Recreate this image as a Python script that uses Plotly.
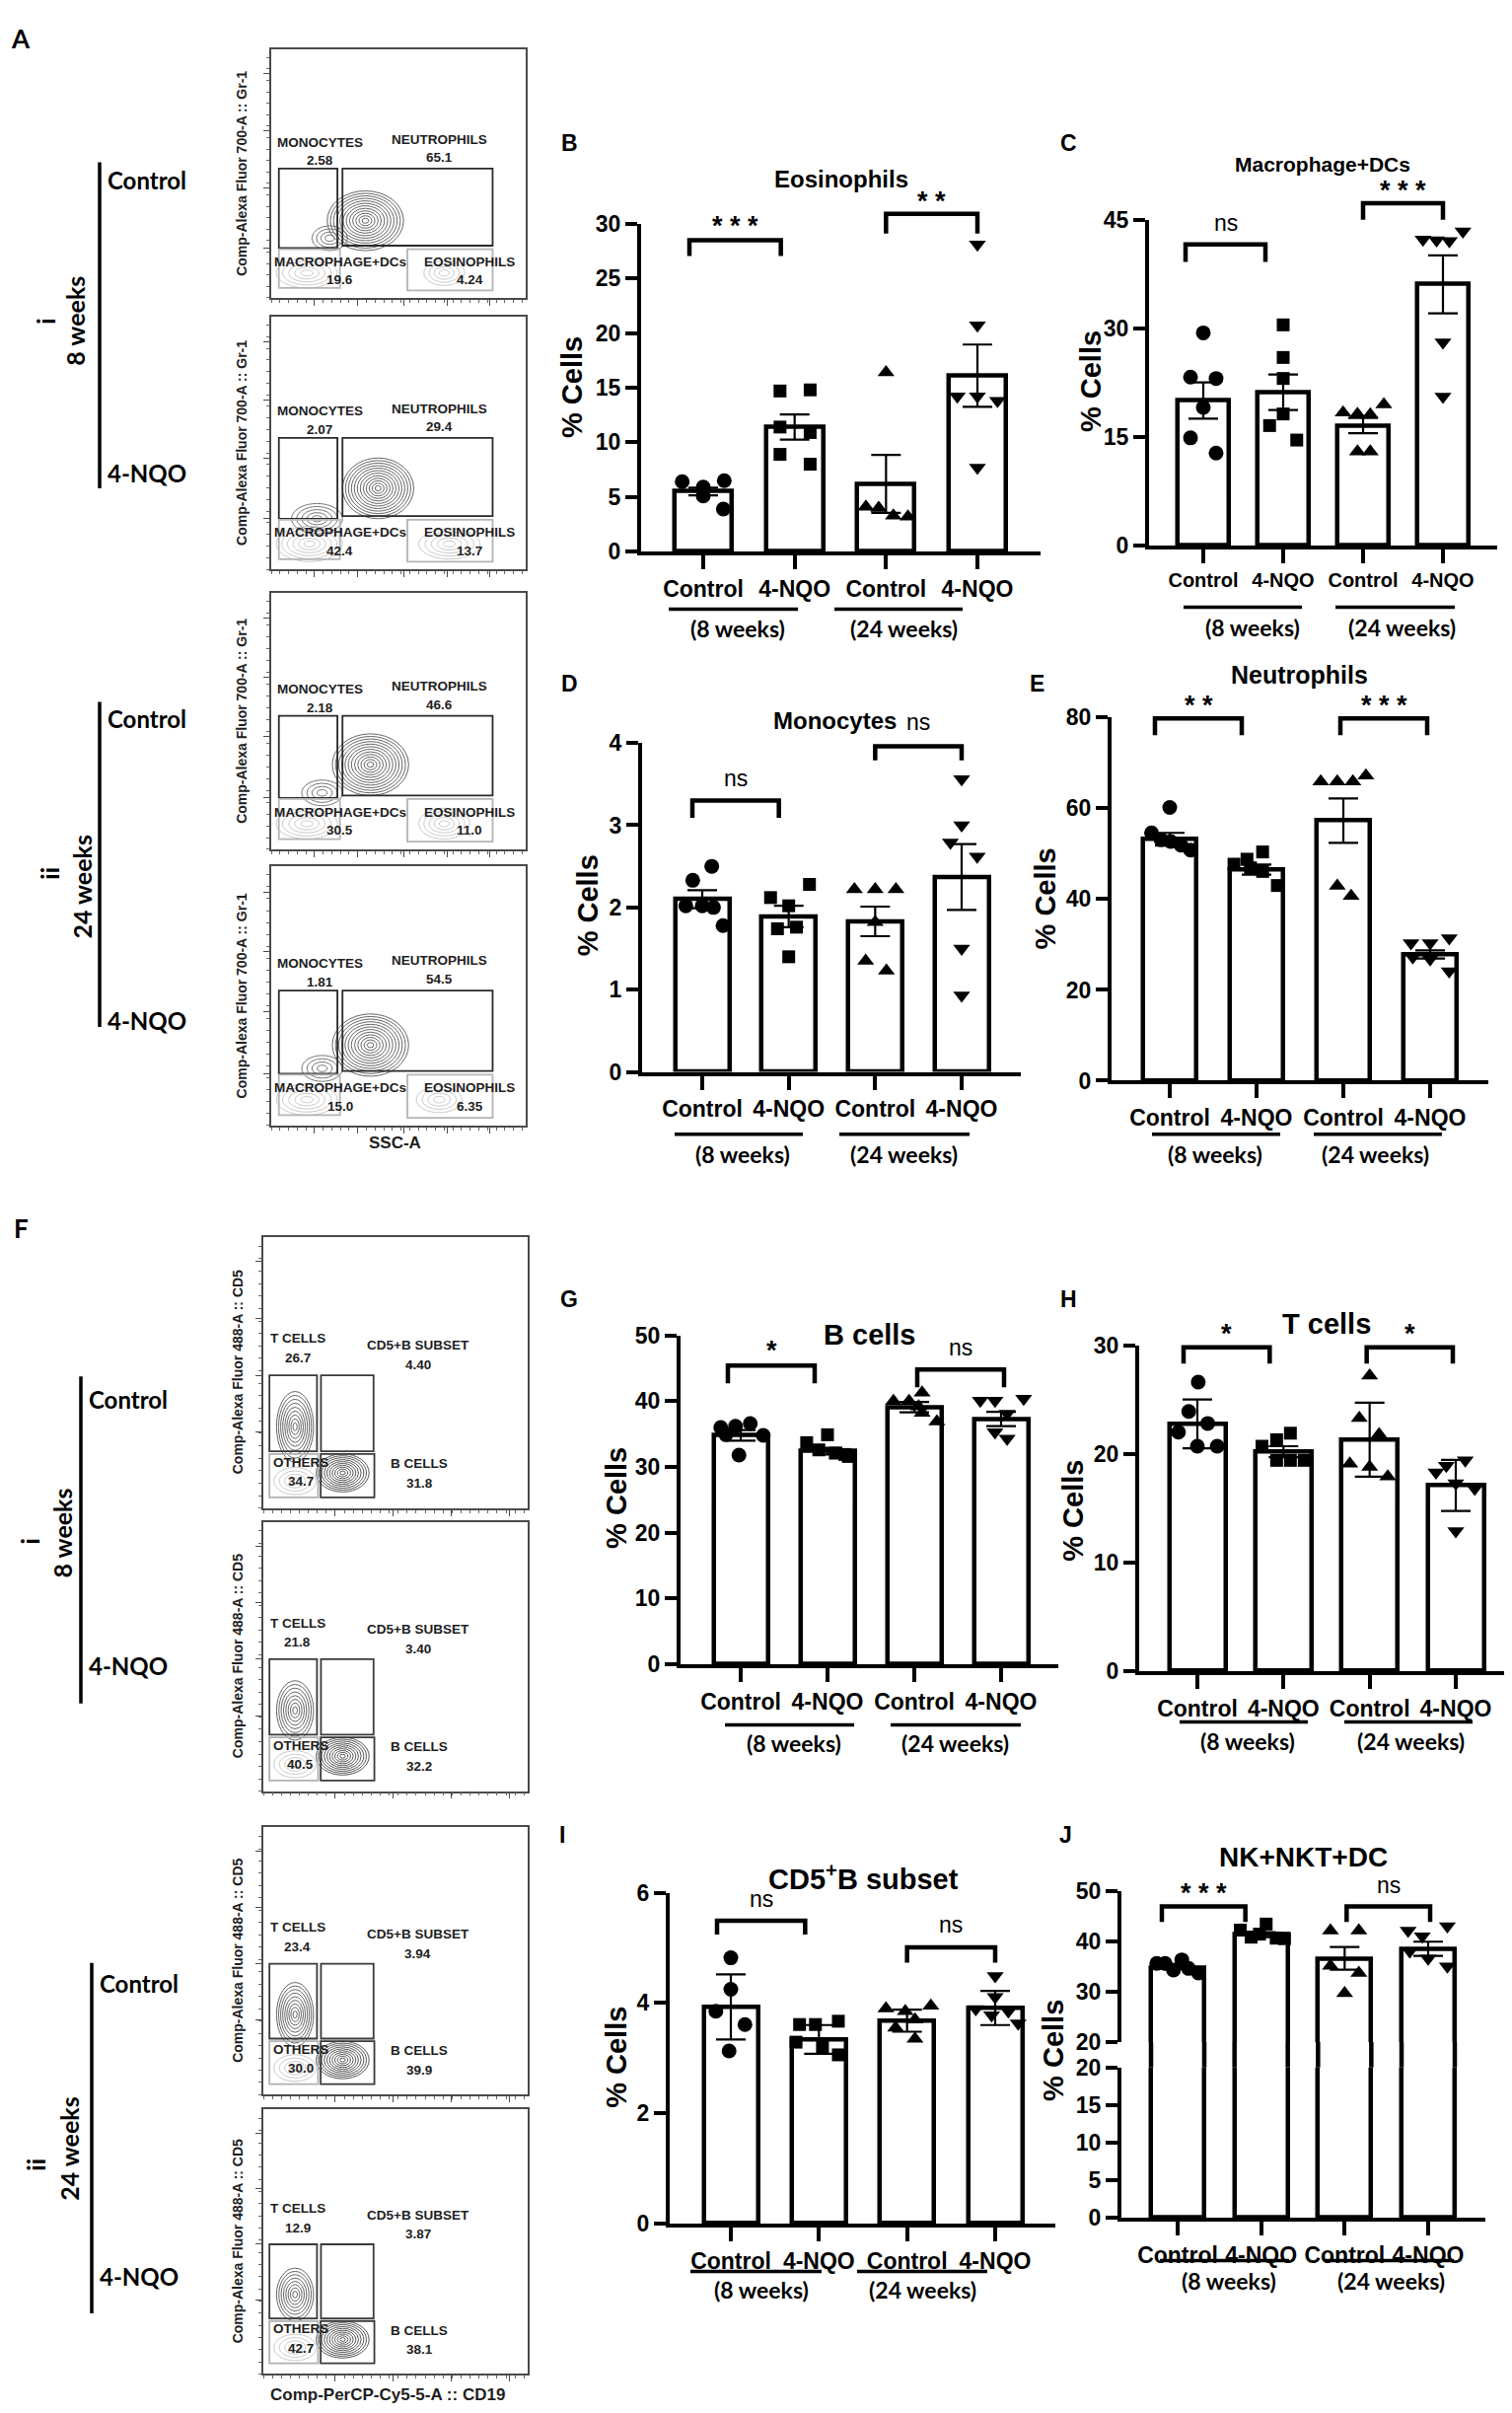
import plotly.graph_objects as go

W, H = 1533, 2446
FONT = "Liberation Sans, Arial, sans-serif"
SIDE = "Lato, Carlito, Open Sans, sans-serif"

# ------------------------------------------------------------------ data
GROUPS = ["Control", "4-NQO", "Control", "4-NQO"]
WEEKS = ["(8 weeks)", "(24 weeks)"]
SYMBOLS = ["circle", "square", "triangle-up", "triangle-down"]
MSIZE = [15, 13, 15, 15]

# B  Eosinophils
eos_mean = [5.5, 11.4, 6.2, 16.1]
eos_err = [0.35, 1.15, 2.65, 2.85]
eos_pts = [[6.4, 5.9, 6.5, 5.1, 3.9],
           [14.7, 14.8, 11.4, 10.9, 8.9, 8.0],
           [16.4, 4.1, 4.0, 3.3, 3.2],
           [28.1, 20.7, 14.2, 14.2, 13.8, 7.7]]
eos_dx = [[-0.23, 0, 0.23, 0, 0.22], [-0.16, 0.17, -0.16, 0.17, -0.16, 0.17],
          [0, -0.22, -0.08, 0.08, 0.24], [0, 0, -0.22, 0, 0.22, 0]]
eos_sig = ["***", "**"]

# C  Macrophage+DCs
mac_mean = [20.05, 21.2, 16.6, 36.1]
mac_err = [2.5, 2.45, 1.05, 4.0]
mac_pts = [[29.4, 23.3, 23.1, 19.1, 14.9, 12.8],
           [30.5, 26.0, 23.1, 18.2, 16.6, 14.6],
           [18.4, 18.2, 18.1, 19.5, 13.0, 13.0],
           [42.3, 42.2, 42.1, 43.4, 28.1, 20.6]]
mac_dx = [[0, -0.16, 0.16, 0, -0.16, 0.16], [0, 0, 0, 0, -0.17, 0.17],
          [-0.25, -0.07, 0.09, 0.26, -0.07, 0.09], [-0.25, -0.08, 0.08, 0.25, 0, 0]]
mac_sig = ["ns", "***"]

# D  Monocytes
mono_mean = [2.10, 1.89, 1.83, 2.37]
mono_err = [0.11, 0.13, 0.18, 0.40]
mono_pts = [[2.50, 2.33, 2.02, 2.02, 2.00, 1.78],
            [2.28, 2.12, 2.02, 1.76, 1.74, 1.40],
            [2.22, 2.22, 2.22, 1.82, 1.35, 1.23],
            [3.56, 3.00, 2.79, 2.62, 1.50, 0.93]]
mono_dx = [[0.11, -0.11, -0.19, 0, 0.13, 0.24], [0.24, -0.21, 0, 0.09, -0.13, 0],
           [-0.24, 0, 0.24, 0, -0.11, 0.13], [0, 0, -0.13, 0.18, 0, 0]]
mono_sig = ["ns", "ns"]

# E  Neutrophils
neu_mean = [53.2, 46.5, 57.3, 27.8]
neu_err = [1.4, 1.1, 4.9, 0.9]
neu_pts = [[60.2, 54.6, 53.1, 52.7, 51.9, 50.8],
           [50.4, 48.8, 47.7, 46.9, 46.1, 43.0],
           [65.9, 65.9, 65.9, 67.2, 42.9, 40.7],
           [30.3, 30.3, 31.4, 27.2, 26.8, 24.1]]
neu_dx = [[0, -0.21, -0.1, 0.01, 0.13, 0.24], [0.07, -0.11, -0.26, -0.07, 0.07, 0.24],
          [-0.26, -0.07, 0.11, 0.26, -0.07, 0.09], [-0.22, 0, 0.22, -0.2, 0, 0.22]]
neu_sig = ["**", "***"]

# G  B cells
bc_mean = [34.8, 32.4, 39.1, 37.3]
bc_err = [0.8, 0.5, 0.8, 1.1]
bc_pts = [[36.0, 36.2, 36.6, 34.8, 34.9, 31.8],
          [34.9, 33.7, 32.6, 32.1, 31.9, 31.6],
          [41.3, 40.0, 40.0, 39.2, 38.2, 36.9],
          [40.1, 40.1, 40.4, 38.1, 35.3, 34.3]]
bc_dx = [[-0.23, -0.06, 0.11, 0.26, -0.17, -0.02], [0, -0.24, -0.1, 0.09, 0.2, 0.24],
         [0.09, -0.24, -0.06, 0.05, 0.09, 0.26], [-0.24, -0.07, 0.26, 0.07, -0.07, 0.07]]
bc_sig = ["*", "ns"]

# H  T cells
tc_mean = [22.75, 20.2, 21.3, 17.1]
tc_err = [2.25, 0.5, 3.4, 2.35]
tc_pts = [[26.6, 23.9, 22.8, 22.0, 20.7, 20.7],
          [21.9, 21.3, 20.7, 19.4, 19.4, 19.4],
          [27.2, 23.3, 21.8, 19.1, 18.8, 17.9],
          [18.3, 18.9, 19.4, 17.3, 16.8, 12.9]]
tc_dx = [[0.01, -0.1, 0.12, -0.22, 0, 0.23], [0.08, -0.08, -0.25, -0.08, 0.08, 0.24],
         [0, -0.12, 0.11, -0.23, 0, 0.21], [-0.23, -0.11, 0.11, 0, 0.22, 0]]
tc_sig = ["*", "*"]

# I  CD5+ B subset
cd5_mean = [3.93, 3.34, 3.68, 3.91]
cd5_err = [0.59, 0.26, 0.20, 0.31]
cd5_pts = [[4.82, 4.25, 3.85, 3.61, 3.13],
           [3.61, 3.61, 3.67, 3.29, 3.20, 3.06],
           [3.90, 3.85, 3.95, 3.70, 3.55, 3.35],
           [4.49, 4.11, 3.89, 3.85, 3.78, 3.63]]
cd5_dx = [[0, 0, -0.17, 0.16, -0.02], [-0.22, -0.04, 0.22, -0.26, 0.04, 0.22],
          [-0.24, -0.02, 0.27, 0.09, -0.13, 0.09], [0, 0, -0.22, 0.15, -0.04, 0.26]]
cd5_sig = ["ns", "ns"]

# J  NK+NKT+DC
nk_mean = [34.8, 41.3, 36.6, 38.5]
nk_err = [0.35, 0.5, 2.25, 1.4]
nk_pts = [[35.6, 35.6, 34.3, 36.3, 34.6, 33.7],
          [42.2, 40.8, 43.4, 41.4, 40.6, 40.5],
          [42.1, 42.1, 35.1, 33.7, 29.7],
          [42.1, 41.0, 43.0, 38.0, 36.6, 35.0]]
nk_dx = [[-0.25, -0.15, -0.05, 0.05, 0.13, 0.25], [-0.25, -0.12, 0.06, -0.02, 0.18, 0.28],
         [-0.17, 0.17, -0.17, 0.17, 0], [-0.24, -0.07, 0.23, -0.22, 0, 0.23]]
nk_sig = ["***", "ns"]

# Flow cytometry gate percentages
MYELOID_GATES = ["MONOCYTES", "NEUTROPHILS", "MACROPHAGE+DCs", "EOSINOPHILS"]
myeloid_vals = [["2.58", "65.1", "19.6", "4.24"],
                ["2.07", "29.4", "42.4", "13.7"],
                ["2.18", "46.6", "30.5", "11.0"],
                ["1.81", "54.5", "15.0", "6.35"]]
LYMPH_GATES = ["T CELLS", "CD5+B SUBSET", "OTHERS", "B CELLS"]
lymph_vals = [["26.7", "4.40", "34.7", "31.8"],
              ["21.8", "3.40", "40.5", "32.2"],
              ["23.4", "3.94", "30.0", "39.9"],
              ["12.9", "3.87", "42.7", "38.1"]]

# ------------------------------------------------------------------ helpers
layout = {}
shapes = []
annotations = []
traces = []
axn = [0]


def px(x):
    return min(1.0, max(0.0, x / W))


def py(y):
    return min(1.0, max(0.0, 1 - y / H))


def new_axes():
    axn[0] += 1
    n = axn[0]
    sfx = "" if n == 1 else str(n)
    return "xaxis" + sfx, "yaxis" + sfx, "x" + sfx, "y" + sfx


def txt(x, y, s, size, bold=True, family=FONT, angle=0, xanchor="center",
        color="black", yanchor="middle"):
    annotations.append(dict(
        x=px(x), y=py(y), xref="paper", yref="paper", showarrow=False,
        text=("<b>%s</b>" % s) if bold else s, textangle=angle,
        font=dict(size=size, family=family, color=color),
        xanchor=xanchor, yanchor=yanchor))


def pline(x0, y0, x1, y1, width=4, color="black"):
    shapes.append(dict(type="line", xref="paper", yref="paper",
                       x0=px(x0), y0=py(y0), x1=px(x1), y1=py(y1),
                       line=dict(color=color, width=width)))


def ypix(g, v):
    return g["y0"] - (v - g["lo"]) / (g["hi"] - g["lo"]) * (g["y0"] - g["yt"])


def bar_axes(g, xs, ys, xr, yr, show_x=True):
    s = (g["c3"] - g["c0"]) / 3.0
    fs = g.get("fs", 23)
    layout[xs] = dict(
        domain=[px(g["x0"]), px(g["x1"])],
        range=[(g["x0"] - g["c0"]) / s, (g["x1"] - g["c0"]) / s],
        anchor=yr, showline=True, linewidth=4, linecolor="black",
        ticks="outside", ticklen=14, tickwidth=3.5, tickcolor="black",
        tickmode="array", tickvals=[0, 1, 2, 3], ticktext=GROUPS,
        tickfont=dict(size=fs, family=FONT, color="black", weight="bold"),
        showgrid=False, zeroline=False, fixedrange=True, visible=show_x)
    layout[ys] = dict(
        domain=[py(g["y0"]), py(g["yt"])], range=[g["lo"], g["hi"]],
        anchor=xr, showline=True, linewidth=4, linecolor="black",
        ticks="outside", ticklen=12, tickwidth=3.5, tickcolor="black",
        tick0=g["lo"], dtick=g["dtick"],
        tickfont=dict(size=23, family=FONT, color="black", weight="bold"),
        showgrid=False, zeroline=False, fixedrange=True)
    return s


def add_bars(xr, yr, g, s, means, errs, pts, dxs, with_err=True):
    traces.append(go.Bar(
        x=[0, 1, 2, 3], y=means, width=g["bw"] / s, xaxis=xr, yaxis=yr,
        marker=dict(color="white", line=dict(color="black", width=4.5)),
        error_y=dict(type="data", array=errs, visible=with_err,
                     color="black", thickness=2.2, width=15),
        showlegend=False, hoverinfo="skip"))
    if pts is None:
        return
    for i in range(4):
        traces.append(go.Scatter(
            x=[i + d for d in dxs[i]], y=pts[i], mode="markers",
            xaxis=xr, yaxis=yr, cliponaxis=False,
            marker=dict(symbol=SYMBOLS[i], size=MSIZE[i], color="black"),
            showlegend=False, hoverinfo="skip"))


def add_sig(g, s, sig, cfg):
    for lab, (ga, gb, top, leg, lv, shift) in zip(sig, cfg):
        xa = g["c0"] + ga * s + shift
        xb = g["c0"] + gb * s + shift
        yt_, yl_ = ypix(g, top), ypix(g, leg)
        shapes.append(dict(type="path", xref="paper", yref="paper",
                           path="M %f %f L %f %f L %f %f L %f %f" % (
                               px(xa), py(yl_), px(xa), py(yt_),
                               px(xb), py(yt_), px(xb), py(yl_)),
                           line=dict(color="black", width=4.5)))
        ly = ypix(g, lv)
        if lab == "ns":
            txt((xa + xb) / 2, ly, "ns", 23, bold=False)
        else:
            txt((xa + xb) / 2, ly + 7, " ".join(lab), 27, bold=True)


def add_labels(t):
    txt(t["letter"][1], t["letter"][2], t["letter"][0], 23)
    txt(t["title"][1], t["title"][2], t["title"][0], t["title"][3])
    txt(t["ycell"][0], t["ycell"][1], "% Cells", 29, angle=-90)
    for (a, b), wx, wk in zip(t["ul"], t["wk_x"], WEEKS):
        pline(a, t["ul_y"], b, t["ul_y"], width=3.5)
        txt(wx, t["wk_y"], wk, 23, family=SIDE)


def bar_panel(g, t, means, errs, pts, dxs, sig, sigcfg):
    xs, ys, xr, yr = new_axes()
    s = bar_axes(g, xs, ys, xr, yr)
    add_bars(xr, yr, g, s, means, errs, pts, dxs)
    add_sig(g, s, sig, sigcfg)
    add_labels(t)


# ------------------------------------------------------------------ bar panels (layout geometry in px)
GB = dict(x0=642, x1=1047, c0=705, c3=983, y0=544, yt=208, lo=0, hi=30, dtick=5, bw=58)
TB = dict(letter=("B", 569, 125), title=("Eosinophils", 845, 162, 24), ycell=(572, 376),
          ul=[(670, 801), (838, 968)], ul_y=603, wk_x=[740, 908], wk_y=623)
bar_panel(GB, TB, eos_mean, eos_err, eos_pts, eos_dx, eos_sig,
          [(0, 1, 28.5, 27.05, 30.4, -14), (2, 3, 30.9, 29.1, 32.7, 0)])

GC = dict(x0=1157, x1=1510, c0=1212, c3=1455, y0=538, yt=204, lo=0, hi=45, dtick=15, bw=52, fs=20)
TC = dict(letter=("C", 1075, 125), title=("Macrophage+DCs", 1333, 147, 21), ycell=(1098, 370),
          ul=[(1192, 1312), (1346, 1467)], ul_y=601, wk_x=[1262, 1413], wk_y=622)
bar_panel(GC, TC, mac_mean, mac_err, mac_pts, mac_dx, mac_sig,
          [(0, 1, 41.6, 39.2, 44.6, -18), (2, 3, 47.3, 45.0, 50.0, 0)])

GD = dict(x0=643, x1=1027, c0=704, c3=967, y0=1077, yt=740, lo=0, hi=4, dtick=1, bw=55)
TD = dict(letter=("D", 569, 679), title=("Monocytes", 838, 717, 24), ycell=(588, 907),
          ul=[(676, 806), (843, 975)], ul_y=1141, wk_x=[745, 908], wk_y=1161)
bar_panel(GD, TD, mono_mean, mono_err, mono_pts, mono_dx, mono_sig,
          [(0, 1, 3.30, 3.09, 3.57, -10), (2, 3, 3.96, 3.79, 4.25, 0)])

GE = dict(x0=1119, x1=1501, c0=1178, c3=1442, y0=1086, yt=714, lo=0, hi=80, dtick=20, bw=54)
TE = dict(letter=("E", 1043, 679), title=("Neutrophils", 1309, 670, 25), ycell=(1052, 900),
          ul=[(1160, 1290), (1324, 1454)], ul_y=1141, wk_x=[1224, 1386], wk_y=1161)
bar_panel(GE, TE, neu_mean, neu_err, neu_pts, neu_dx, neu_sig,
          [(0, 1, 79.8, 76.1, 84.1, -15), (2, 3, 79.8, 76.1, 84.1, -3)])

GG = dict(x0=682, x1=1065, c0=743, c3=1007, y0=1684, yt=1347, lo=0, hi=50, dtick=10, bw=55)
TG = dict(letter=("G", 569, 1310), title=("B cells", 874, 1346, 29), ycell=(617, 1514),
          ul=[(727, 858), (895, 1027)], ul_y=1746, wk_x=[797, 960], wk_y=1765)
bar_panel(GG, TG, bc_mean, bc_err, bc_pts, bc_dx, bc_sig,
          [(0, 1, 45.4, 42.7, 48.7, -13), (2, 3, 44.8, 42.1, 48.1, 3)])

GH = dict(x0=1147, x1=1527, c0=1206, c3=1468, y0=1691, yt=1357, lo=0, hi=30, dtick=10, bw=57)
TH = dict(letter=("H", 1075, 1310), title=("T cells", 1337, 1335, 29), ycell=(1080, 1527),
          ul=[(1188, 1318), (1355, 1485)], ul_y=1743, wk_x=[1257, 1422], wk_y=1763)
bar_panel(GH, TH, tc_mean, tc_err, tc_pts, tc_dx, tc_sig,
          [(0, 1, 29.8, 28.3, 31.7, -14), (2, 3, 29.8, 28.3, 31.7, -3)])

GI = dict(x0=671, x1=1062, c0=733, c3=1001, y0=2257, yt=1918, lo=0, hi=6, dtick=2, bw=55)
TI = dict(letter=("I", 562, 1859), title=("CD5<sup>+</sup>B subset", 867, 1902, 29),
          ycell=(617, 2087), ul=[(692, 825), (861, 993)], ul_y=2306, wk_x=[764, 927], wk_y=2325)
bar_panel(GI, TI, cd5_mean, cd5_err, cd5_pts, cd5_dx, cd5_sig,
          [(0, 1, 5.49, 5.24, 5.88, -14), (2, 3, 5.01, 4.73, 5.42, 0)])

# J: broken y axis (0-20 lower, 20-50 upper)
GJL = dict(x0=1129, x1=1498, c0=1186, c3=1440, y0=2251, yt=2097, lo=0, hi=20, dtick=5, bw=54)
GJU = dict(x0=1129, x1=1498, c0=1186, c3=1440, y0=2071, yt=1916, lo=20, hi=50, dtick=10, bw=54)
TJ = dict(letter=("J", 1072, 1859), title=("NK+NKT+DC", 1313, 1882, 28), ycell=(1060, 2080),
          ul=[(1168, 1299), (1335, 1466)], ul_y=2295, wk_x=[1238, 1402], wk_y=2316)
xs, ys, xr, yr = new_axes()
sJ = bar_axes(GJL, xs, ys, xr, yr)
add_bars(xr, yr, GJL, sJ, nk_mean, nk_err, None, None, with_err=False)
xs, ys, xr, yr = new_axes()
bar_axes(GJU, xs, ys, xr, yr, show_x=False)
add_bars(xr, yr, GJU, sJ, nk_mean, nk_err, nk_pts, nk_dx)
for i in range(4):
    c = GJL["c0"] + i * sJ
    for e in (-GJL["bw"] / 2, GJL["bw"] / 2):
        pline(c + e, GJU["y0"], c + e, GJL["yt"], width=4.5)
add_sig(GJU, sJ, nk_sig, [(0, 1, 46.9, 43.8, 50.8, -16), (2, 3, 46.9, 43.8, 51.1, 2)])
add_labels(TJ)

# ------------------------------------------------------------------ flow cytometry panels
A_GATES = [(0.03, 0.26, 0.20, 0.52, "#2a2a2a"), (0.28, 0.87, 0.21, 0.52, "#2a2a2a"),
           (0.03, 0.27, 0.04, 0.196, "#b5b5b5"), (0.535, 0.87, 0.03, 0.196, "#b5b5b5")]
A_LABELS = [(0.19, 0.625), (0.66, 0.635), (0.27, 0.145), (0.78, 0.145)]
F_GATES = [(0.023, 0.203, 0.21, 0.49, "#3a3a3a"), (0.218, 0.417, 0.21, 0.49, "#3a3a3a"),
           (0.023, 0.207, 0.04, 0.20, "#b0b0b0"), (0.217, 0.42, 0.04, 0.20, "#3a3a3a")]
F_LABELS = [(0.13, 0.625), (0.585, 0.60), (0.14, 0.17), (0.59, 0.165)]

A_BLOBS = [
    [(0.37, 0.31, 0.15, 0.12, 12, "#555"), (0.23, 0.24, 0.07, 0.05, 4, "#666"),
     (0.14, 0.10, 0.12, 0.06, 5, "#c4c4c4"), (0.68, 0.10, 0.08, 0.05, 4, "#c4c4c4")],
    [(0.42, 0.32, 0.14, 0.12, 12, "#555"), (0.18, 0.20, 0.10, 0.06, 5, "#666"),
     (0.15, 0.10, 0.13, 0.07, 6, "#c4c4c4"), (0.70, 0.10, 0.12, 0.06, 5, "#c4c4c4")],
    [(0.39, 0.33, 0.15, 0.12, 12, "#555"), (0.20, 0.22, 0.08, 0.05, 4, "#666"),
     (0.14, 0.10, 0.12, 0.06, 5, "#c4c4c4"), (0.68, 0.10, 0.10, 0.06, 5, "#c4c4c4")],
    [(0.39, 0.31, 0.15, 0.12, 12, "#555"), (0.20, 0.22, 0.08, 0.05, 4, "#666"),
     (0.14, 0.10, 0.12, 0.06, 5, "#c4c4c4"), (0.66, 0.10, 0.09, 0.05, 4, "#c4c4c4")],
]
F_BLOBS = [
    [(0.12, 0.30, 0.07, 0.13, 9, "#555"), (0.30, 0.13, 0.10, 0.07, 10, "#444"),
     (0.12, 0.10, 0.08, 0.05, 4, "#c4c4c4")],
    [(0.12, 0.30, 0.07, 0.11, 8, "#555"), (0.30, 0.13, 0.10, 0.07, 10, "#444"),
     (0.12, 0.10, 0.08, 0.05, 4, "#c4c4c4")],
    [(0.12, 0.30, 0.07, 0.12, 9, "#555"), (0.30, 0.13, 0.10, 0.07, 10, "#444"),
     (0.12, 0.10, 0.08, 0.05, 4, "#c4c4c4")],
    [(0.12, 0.30, 0.07, 0.10, 8, "#555"), (0.30, 0.13, 0.10, 0.07, 10, "#444"),
     (0.12, 0.10, 0.08, 0.05, 4, "#c4c4c4")],
]


def flow_panel(box, gates, lab_pos, names, vals, blobs, ymaj, xmaj, ytitle, ytx):
    x0, x1, yt, yb = box
    xs, ys, xr, yr = new_axes()
    common = dict(range=[0, 1], showline=True, mirror=True, linecolor="#4a4a4a",
                  linewidth=1.5, ticks="outside", ticklen=6, tickwidth=1.2,
                  tickcolor="#4a4a4a", showticklabels=False, showgrid=False,
                  zeroline=False, fixedrange=True, tickmode="array")
    layout[xs] = dict(common, domain=[px(x0), px(x1)], anchor=yr, tickvals=xmaj,
                      minor=dict(ticks="outside", ticklen=3, tickcolor="#666",
                                 tickmode="array",
                                 tickvals=[k * 0.034 for k in range(30)]))
    layout[ys] = dict(common, domain=[py(yb), py(yt)], anchor=xr, tickvals=ymaj,
                      minor=dict(ticks="outside", ticklen=3, tickcolor="#666",
                                 tickmode="array",
                                 tickvals=[k * 0.046 for k in range(22)]))
    for (cx, cy, rx, ry, n, col) in blobs:
        for k in range(1, n + 1):
            f = k / n
            shapes.append(dict(type="circle", xref=xr, yref=yr,
                               x0=cx - rx * f, x1=cx + rx * f,
                               y0=cy - ry * f, y1=cy + ry * f,
                               line=dict(color=col, width=0.9)))
    for (a, b, c, d, col) in gates:
        shapes.append(dict(type="rect", xref=xr, yref=yr, x0=a, x1=b, y0=c, y1=d,
                           line=dict(color=col, width=1.8)))
    for (lx, ly), nm, v in zip(lab_pos, names, vals):
        for yy, t in ((ly, nm), (ly - 0.072, v)):
            annotations.append(dict(x=lx, y=yy, xref=xr, yref=yr, text="<b>%s</b>" % t,
                                    showarrow=False,
                                    font=dict(size=13.5, family=FONT, color="#1e1e1e")))
    txt(ytx, (yt + yb) / 2, ytitle, 14, angle=-90, color="#1e1e1e")


A_BOXES = [(267, 525, 29, 284), (267, 525, 303, 562), (267, 525, 586, 849), (267, 525, 866, 1132)]
F_BOXES = [(259, 527, 1246, 1524), (259, 527, 1538, 1814), (259, 527, 1851, 2125), (259, 527, 2140, 2411)]
for i, b in enumerate(A_BOXES):
    flow_panel(b, A_GATES, A_LABELS, MYELOID_GATES, myeloid_vals[i], A_BLOBS[i],
               [0.2, 0.44, 0.67, 0.9], [0.17, 0.34, 0.52, 0.69, 0.86],
               "Comp-Alexa Fluor 700-A :: Gr-1", 237)
for i, b in enumerate(F_BOXES):
    flow_panel(b, F_GATES, F_LABELS, LYMPH_GATES, lymph_vals[i], F_BLOBS[i],
               [0.28, 0.49, 0.70, 0.91], [0.27, 0.49, 0.71, 0.93],
               "Comp-Alexa Fluor 488-A :: CD5", 233)

txt(392, 1150, "SSC-A", 17, color="#1e1e1e")
txt(385, 2432, "Comp-PerCP-Cy5-5-A :: CD19", 17, color="#1e1e1e")

# side labels
txt(13, 18, "A", 26, family=SIDE)
txt(13, 1237, "F", 26, family=SIDE)
SIDE_GROUPS = [  # line x, line top, line bottom, ctrl y, nqo y, weeks text, weeks x, weeks y, roman, roman x, roman y
    (93, 145, 479, 163, 463, "8 weeks", 68, 308, "i", 38, 308),
    (93, 698, 1031, 715, 1024, "24 weeks", 75, 888, "ii", 42, 874),
    (74, 1389, 1724, 1413, 1685, "8 weeks", 55, 1550, "i", 22, 1558),
    (85, 1990, 2349, 2011, 2311, "24 weeks", 62, 2181, "ii", 28, 2197),
]
for (lx, lt, lb, cy, ny, wk, wx, wy, rn, rx, ry) in SIDE_GROUPS:
    pline(lx, lt, lx, lb, width=3.5)
    txt(lx + 6, cy, "Control", 24, family=SIDE, xanchor="left")
    txt(lx + 6, ny, "4-NQO", 24, family=SIDE, xanchor="left")
    txt(wx, wy, wk, 25, family=SIDE, angle=-90)
    txt(rx, ry, rn, 25, family=SIDE, angle=-90)

fig = go.Figure(data=traces)
fig.update_layout(width=W, height=H, margin=dict(l=0, r=0, t=0, b=0),
                  paper_bgcolor="white", plot_bgcolor="rgba(0,0,0,0)",
                  showlegend=False, shapes=shapes, annotations=annotations,
                  bargap=0, **layout)
fig.write_html("out.html")
